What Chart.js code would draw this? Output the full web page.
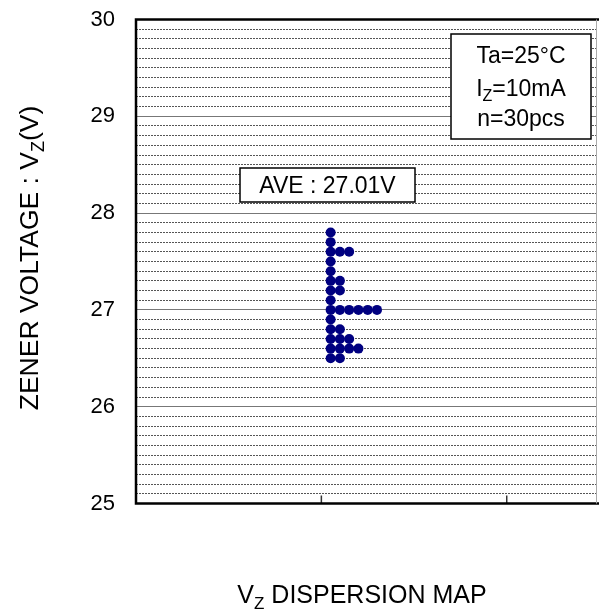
<!DOCTYPE html>
<html>
<head>
<meta charset="utf-8">
<script src="https://cdn.jsdelivr.net/npm/chart.js@4.4.0/dist/chart.umd.min.js"></script>
<style>
  html, body { margin: 0; padding: 0; background: #fff; }
</style>
</head>
<body>
<canvas id="myChart" width="602" height="609"></canvas>
<script>
// Vz dispersion data (30 pcs)
var vzLevels = [27.8, 27.7, 27.6, 27.5, 27.4, 27.3, 27.2, 27.1, 27.0, 26.9, 26.8, 26.7, 26.6, 26.5];
var pcsPerLevel = [1, 1, 3, 1, 1, 2, 2, 1, 6, 1, 2, 3, 4, 2];
var xTicks = [1, 2];
var yMin = 25, yMax = 30;
var conditions = [
  [['Ta=25°C', 0]],
  [['I', 0], ['Z', 1], ['=10mA', 0]],
  [['n=30pcs', 0]]
];
var aveLabel = 'AVE : 27.01V';
var yTitle = [['ZENER VOLTAGE : V', 0], ['Z', 1], ['(V)', 0]];
var xTitle = [['V', 0], ['Z', 1], [' DISPERSION MAP', 0]];

// stack the dots sideways, one column step per piece
var dotX0 = 1.05, dotStep = 0.05;
var points = [];
vzLevels.forEach(function (v, i) {
  for (var k = 0; k < pcsPerLevel[i]; k++) {
    points.push({ x: dotX0 + k * dotStep, y: v });
  }
});

var FONT = '"Liberation Sans", Arial, sans-serif';

function isMajor(v) {
  return Math.abs(v - Math.round(v)) < 1e-6;
}

// draws text with subscript parts
function richText(ctx, parts, x, y, size, align) {
  var subSize = Math.round(size * 0.68);
  var w = 0;
  parts.forEach(function (p) {
    ctx.font = (p[1] ? subSize : size) + 'px ' + FONT;
    w += ctx.measureText(p[0]).width;
  });
  var cx = align === 'center' ? x - w / 2 : x;
  ctx.textAlign = 'left';
  ctx.textBaseline = 'alphabetic';
  parts.forEach(function (p) {
    ctx.font = (p[1] ? subSize : size) + 'px ' + FONT;
    ctx.fillText(p[0], cx, p[1] ? y + size * 0.22 : y);
    cx += ctx.measureText(p[0]).width;
  });
}

var decor = {
  id: 'decor',
  afterDraw: function (chart) {
    var ctx = chart.ctx;
    var a = chart.chartArea;
    var xs = chart.scales.x;
    ctx.save();

    // x ticks, pointing inward
    ctx.strokeStyle = '#333';
    ctx.lineWidth = 1.5;
    xTicks.forEach(function (t) {
      var px = xs.getPixelForValue(t);
      ctx.beginPath();
      ctx.moveTo(px, a.bottom);
      ctx.lineTo(px, a.bottom - 8);
      ctx.stroke();
    });

    // frame
    ctx.strokeStyle = '#000';
    ctx.lineWidth = 2.5;
    ctx.beginPath();
    ctx.moveTo(a.right + 2, a.top);
    ctx.lineTo(a.left, a.top);
    ctx.lineTo(a.left, a.bottom);
    ctx.lineTo(a.right + 2, a.bottom);
    ctx.stroke();
    ctx.strokeStyle = '#aaa';
    ctx.lineWidth = 1;
    ctx.beginPath();
    ctx.moveTo(a.right - 0.5, a.top);
    ctx.lineTo(a.right - 0.5, a.bottom);
    ctx.stroke();

    // condition box
    ctx.fillStyle = '#fff';
    ctx.fillRect(451, 34, 140, 105);
    ctx.strokeStyle = '#000';
    ctx.lineWidth = 1.5;
    ctx.strokeRect(451, 34, 140, 105);
    ctx.fillStyle = '#000';
    var base = [63, 96, 126];
    conditions.forEach(function (parts, i) {
      richText(ctx, parts, 521, base[i], 23, 'center');
    });

    // average box
    ctx.fillStyle = '#fff';
    ctx.fillRect(240, 168, 175, 34);
    ctx.strokeRect(240, 168, 175, 34);
    ctx.fillStyle = '#000';
    richText(ctx, [[aveLabel, 0]], 327.5, 193, 23, 'center');

    // axis titles
    ctx.save();
    ctx.translate(38, 258);
    ctx.rotate(-Math.PI / 2);
    richText(ctx, yTitle, 0, 0, 26.5, 'center');
    ctx.restore();
    richText(ctx, xTitle, 362, 603, 25, 'center');

    ctx.restore();
  }
};

var ctx = document.getElementById('myChart');
var myChart = new Chart(ctx, {
  type: 'scatter',
  data: {
    datasets: [{
      data: points,
      backgroundColor: '#000080',
      borderWidth: 0,
      pointRadius: 5,
      pointHoverRadius: 5
    }]
  },
  options: {
    responsive: false,
    animation: false,
    devicePixelRatio: 1,
    layout: { padding: { top: 19.5, right: 1, bottom: 105.5, left: 0 } },
    plugins: { legend: { display: false }, tooltip: { enabled: false } },
    scales: {
      x: {
        type: 'linear',
        display: false,
        min: 0,
        max: 2.487
      },
      y: {
        type: 'linear',
        min: yMin,
        max: yMax,
        afterFit: function (scale) {
          scale.width = 136;
          scale.paddingTop = 0;
          scale.paddingBottom = 0;
        },
        ticks: {
          stepSize: 0.1,
          autoSkip: false,
          padding: 21,
          color: '#000',
          font: { family: FONT, size: 22 },
          callback: function (v) { return isMajor(v) ? String(Math.round(v)) : ''; }
        },
        grid: {
          drawTicks: false,
          lineWidth: 1,
          color: function (c) { return c.tick && isMajor(c.tick.value) ? '#777' : '#555'; }
        },
        border: {
          display: false,
          dash: function (c) { return c.tick && !isMajor(c.tick.value) ? [2, 1] : []; }
        }
      }
    }
  },
  plugins: [decor]
});
</script>
</body>
</html>
